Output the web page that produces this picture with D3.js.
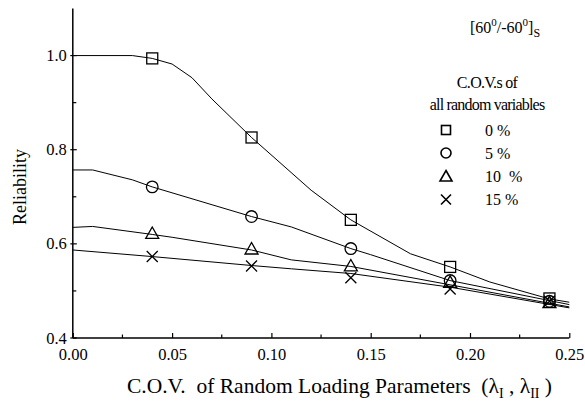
<!DOCTYPE html>
<html lang="en">
<head>
<meta charset="UTF-8">
<title>Reliability vs C.O.V.</title>
<script src="https://cdnjs.cloudflare.com/ajax/libs/d3/7.8.5/d3.min.js"></script>
<style>
  * { margin: 0; padding: 0; }
  body { background: #fff; }
  svg { display: block; font-family: "Liberation Serif", "Times New Roman", serif; }
  .lbl { white-space: pre; }
</style>
</head>
<body>
<div id="chart"></div>
<script>
// C.O.V. of loading parameters where markers sit
const markerX = [0.04, 0.09, 0.14, 0.19, 0.24];

// curve vertices (x, reliability)
const sqLineX = [0, 0.03, 0.04, 0.05, 0.06, 0.07, 0.09, 0.12, 0.14, 0.17, 0.19, 0.21, 0.24, 0.25];
const sqLineY = [1.0, 1.0, 0.994, 0.982, 0.953, 0.908, 0.826, 0.714, 0.651, 0.579, 0.551, 0.519, 0.483, 0.476];
const ciLineX = [0, 0.01, 0.03, 0.04, 0.09, 0.11, 0.14, 0.15, 0.19, 0.25];
const ciLineY = [0.757, 0.757, 0.736, 0.721, 0.658, 0.636, 0.590, 0.577, 0.522, 0.471];
const trLineX = [0, 0.01, 0.04, 0.05, 0.09, 0.11, 0.14, 0.19, 0.25];
const trLineY = [0.635, 0.637, 0.620, 0.614, 0.587, 0.566, 0.552, 0.513, 0.466];
const crLineX = [0, 0.04, 0.09, 0.11, 0.14, 0.19, 0.25];
const crLineY = [0.587, 0.573, 0.554, 0.547, 0.537, 0.508, 0.464];

// marker values
const sqMarks = [0.994, 0.826, 0.651, 0.551, 0.484];
const ciMarks = [0.721, 0.658, 0.590, 0.522, 0.478];
const trMarks = [0.621, 0.588, 0.552, 0.517, 0.474];
const crMarks = [0.573, 0.553, 0.528, 0.504, 0.478];

const legendLabels = ["0 %", "5 %", "10  %", "15 %"];
const xTicks = [0, 0.05, 0.10, 0.15, 0.20, 0.25];
const xMinor = [0.025, 0.075, 0.125, 0.175, 0.225];
const yTicks = [0.4, 0.6, 0.8, 1.0];
const yMinor = [0.5, 0.7, 0.9];

const W = 585, H = 402;
const x = d3.scaleLinear().domain([0, 0.25]).range([72.8, 569.3]);
const y = d3.scaleLinear().domain([0.4, 1.1]).range([338, 8.5]);

const svg = d3.select("#chart").append("svg").attr("width", W).attr("height", H);

// axes
const gx = svg.append("g").attr("transform", `translate(0,${y(0.4)})`)
  .call(d3.axisBottom(x).tickValues(xTicks).tickSize(-5).tickPadding(10)
    .tickFormat(d3.format(".2f")));
gx.attr("font-family", null).attr("font-size", null);
gx.select(".domain").remove();
gx.selectAll("line").attr("stroke", "#000").attr("stroke-width", 1.2);
gx.selectAll("text").attr("font-size", 16.5).attr("fill", "#000");
gx.selectAll(".minor").data(xMinor).enter().append("line")
  .attr("x1", d => x(d)).attr("x2", d => x(d)).attr("y1", 0).attr("y2", -3.5)
  .attr("stroke", "#000").attr("stroke-width", 1.2);

const gy = svg.append("g").attr("transform", `translate(${x(0)},0)`);
gy.selectAll(".maj").data(yTicks).enter().append("line")
  .attr("x1", -2.5).attr("x2", 4).attr("y1", d => y(d)).attr("y2", d => y(d))
  .attr("stroke", "#000").attr("stroke-width", 1.2);
gy.selectAll(".min").data(yMinor).enter().append("line")
  .attr("x1", 0).attr("x2", 3.5).attr("y1", d => y(d)).attr("y2", d => y(d))
  .attr("stroke", "#000").attr("stroke-width", 1.2);
gy.selectAll("text").data(yTicks).enter().append("text")
  .attr("x", -6).attr("y", d => y(d)).attr("dy", "0.34em")
  .attr("text-anchor", "end").attr("font-size", 16.5)
  .text(d => d3.format(".1f")(d));

svg.append("line").attr("x1", x(0)).attr("x2", x(0)).attr("y1", y(1.1)).attr("y2", y(0.4))
  .attr("stroke", "#000").attr("stroke-width", 1.5);
svg.append("line").attr("x1", x(0)).attr("x2", x(0.25)).attr("y1", y(0.4)).attr("y2", y(0.4))
  .attr("stroke", "#000").attr("stroke-width", 1.5);

// curves
const line = d3.line().x(d => x(d[0])).y(d => y(d[1]));
[[sqLineX, sqLineY], [ciLineX, ciLineY], [trLineX, trLineY], [crLineX, crLineY]].forEach(([xs, ys]) => {
  svg.append("path").datum(d3.zip(xs, ys)).attr("d", line)
    .attr("fill", "none").attr("stroke", "#000").attr("stroke-width", 1);
});

// marker shapes
const shapes = {
  square: g => g.append("rect").attr("x", -5.5).attr("y", -5.5).attr("width", 11).attr("height", 11),
  circle: g => g.append("circle").attr("r", 5.8),
  triangle: g => g.append("path").attr("d", "M0,-7 L6.5,4.5 L-6.5,4.5 Z"),
  cross: g => g.append("path").attr("d", "M-5.5,-5.5 L5.5,5.5 M-5.5,5.5 L5.5,-5.5")
};
const series = [["square", sqMarks], ["circle", ciMarks], ["triangle", trMarks], ["cross", crMarks]];
series.forEach(([shape, vals]) => {
  vals.forEach((v, i) => {
    const g = svg.append("g").attr("transform", `translate(${x(markerX[i])},${y(v)})`);
    shapes[shape](g).attr("fill", "none").attr("stroke", "#000").attr("stroke-width", 1.3);
  });
});

// annotation
const ann = svg.append("text").attr("x", 470).attr("y", 33).attr("font-size", 16);
ann.append("tspan").text("[60");
ann.append("tspan").attr("font-size", 11).attr("dy", -7).text("0");
ann.append("tspan").attr("dy", 7).text("/-60");
ann.append("tspan").attr("font-size", 11).attr("dy", -7).text("0");
ann.append("tspan").attr("dy", 7).text("]");
ann.append("tspan").attr("font-size", 12).attr("dy", 4).text("S");

// legend
svg.append("text").attr("x", 487).attr("y", 88).attr("text-anchor", "middle")
  .attr("font-size", 16).attr("letter-spacing", -0.7).text("C.O.V.s of");
svg.append("text").attr("x", 487).attr("y", 110).attr("text-anchor", "middle")
  .attr("font-size", 16).attr("letter-spacing", -0.8).text("all random variables");
const legY = [130, 153, 176.5, 199.5];
series.forEach(([shape], i) => {
  const g = svg.append("g").attr("transform", `translate(446,${legY[i]})`);
  const s = shapes[shape](g).attr("fill", "none").attr("stroke", "#000").attr("stroke-width", 1.6);
  if (shape === "square") s.attr("x", -4.5).attr("y", -4.5).attr("width", 9).attr("height", 9);
  if (shape === "circle") s.attr("r", 5);
  if (shape === "triangle") s.attr("d", "M0,-6 L6,4.5 L-6,4.5 Z");
  if (shape === "cross") s.attr("d", "M-5,-5 L5,5 M-5,5 L5,-5");
  svg.append("text").attr("class", "lbl").attr("x", 485).attr("y", legY[i] + 5.5)
    .attr("font-size", 16).text(legendLabels[i]);
});

// axis titles
svg.append("text").attr("transform", "translate(26,187) rotate(-90)")
  .attr("text-anchor", "middle").attr("font-size", 18).text("Reliability");

const xt = svg.append("text").attr("class", "lbl").attr("x", 127).attr("y", 393).attr("font-size", 21.5);
xt.append("tspan").text("C.O.V.  of Random Loading Parameters  (λ");
xt.append("tspan").attr("font-size", 14).attr("dy", 5).text("I");
xt.append("tspan").attr("dy", -5).text(" , λ");
xt.append("tspan").attr("font-size", 14).attr("dy", 5).text("II");
xt.append("tspan").attr("dy", -5).text(" )");
</script>
</body>
</html>
